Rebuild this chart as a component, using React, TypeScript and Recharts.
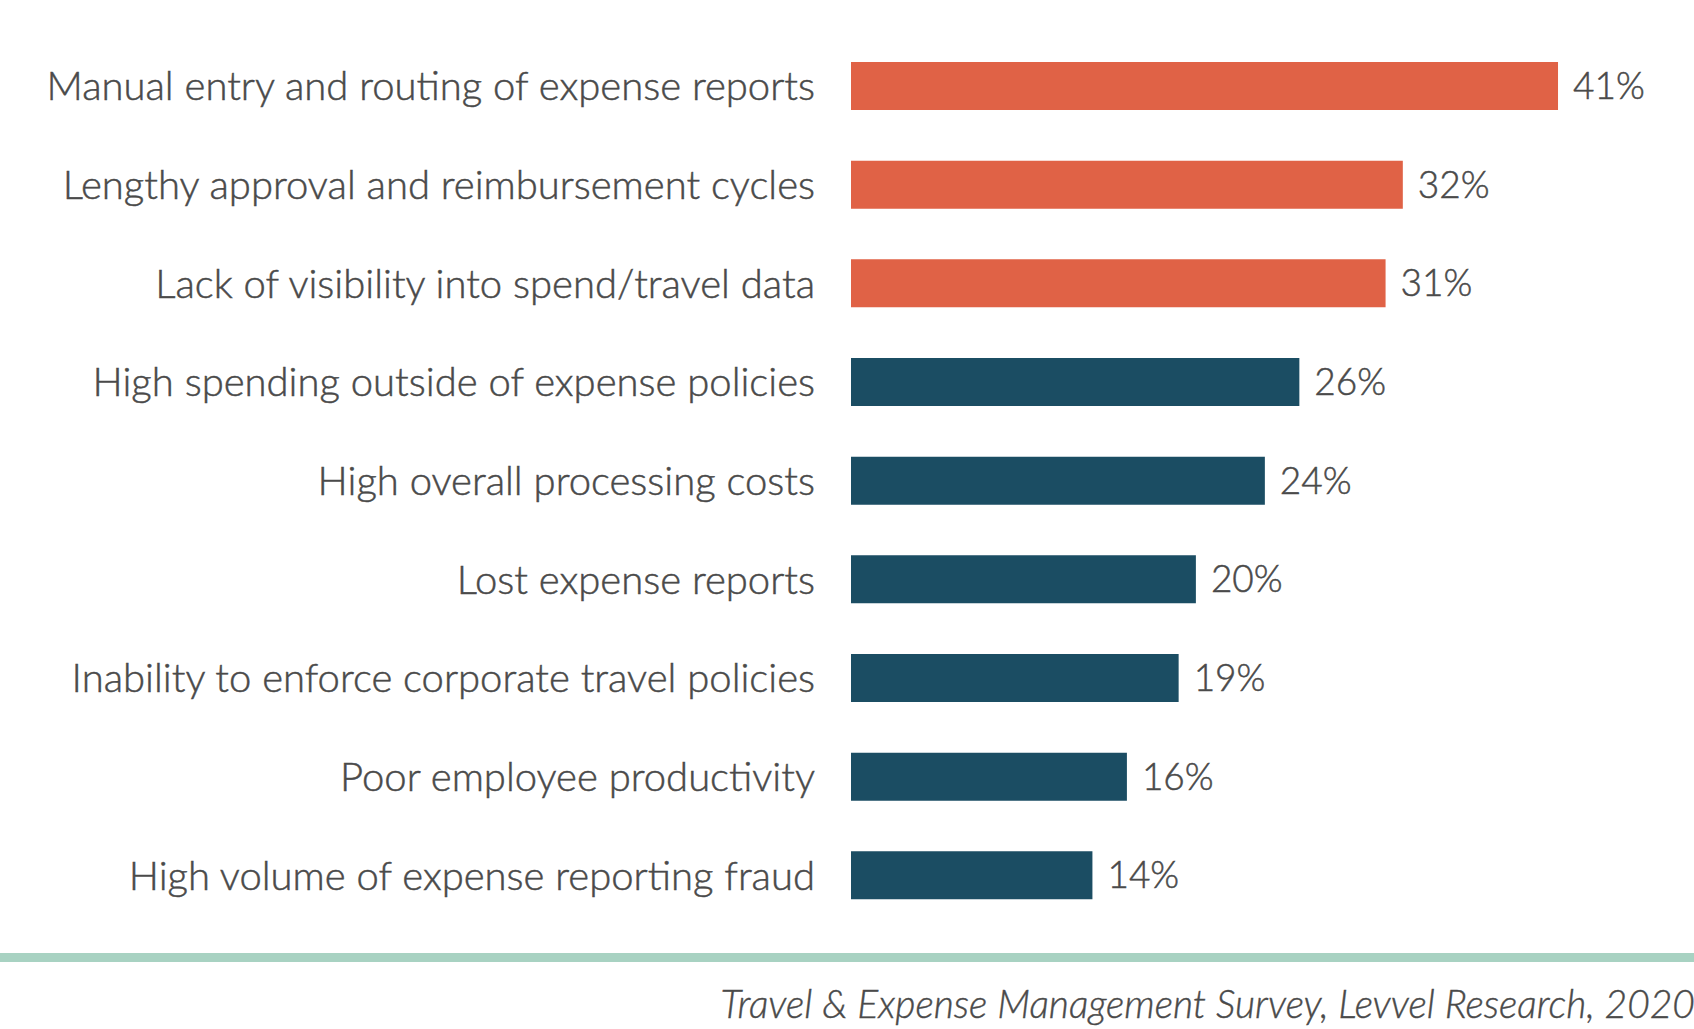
import { BarChart, Bar, XAxis, YAxis, Cell, LabelList } from 'recharts'

const categories = [
  'Manual entry and routing of expense reports',
  'Lengthy approval and reimbursement cycles',
  'Lack of visibility into spend/travel data',
  'High spending outside of expense policies',
  'High overall processing costs',
  'Lost expense reports',
  'Inability to enforce corporate travel policies',
  'Poor employee productivity',
  'High volume of expense reporting fraud',
]
const shares = [41, 32, 31, 26, 24, 20, 19, 16, 14]
const source = 'Travel & Expense Management Survey, Levvel Research, 2020'

const data = categories.map((name, i) => ({ name, value: shares[i] }))

const FONT = 'Lato, "Open Sans", sans-serif'
const TEXT = '#4a4a4a'

function CategoryTick(props: any) {
  const { x, y, payload } = props
  return (
    <text
      x={x - 28}
      y={y}
      dy={14}
      textAnchor="end"
      fill={TEXT}
      stroke={TEXT}
      strokeWidth={0.5}
      fontSize={40}
      fontWeight={300}
      fontFamily={FONT}
    >
      {payload.value}
    </text>
  )
}

export default function App() {
  return (
    <div style={{ position: 'absolute', left: 0, top: 0, width: 1694, height: 1029, background: '#fff', overflow: 'hidden' }}>
      <BarChart
        width={1694}
        height={1029}
        data={data}
        layout="vertical"
        margin={{ top: 37, right: 67, bottom: 104, left: 0 }}
      >
        <XAxis type="number" domain={[0, 45]} hide />
        <YAxis
          type="category"
          dataKey="name"
          width={851}
          axisLine={false}
          tickLine={false}
          interval={0}
          tick={<CategoryTick />}
        />
        <Bar dataKey="value" barSize={48} isAnimationActive={false}>
          {data.map((d, i) => (
            <Cell key={d.name} fill={i < 3 ? '#e06246' : '#1b4d63'} />
          ))}
          <LabelList
            dataKey="value"
            position="right"
            offset={15}
            formatter={(v: any) => `${v}%`}
            fill={TEXT}
            stroke={TEXT}
            strokeWidth={0.5}
            fontSize={37}
            fontWeight={300}
            fontFamily={FONT}
          />
        </Bar>
      </BarChart>
      <div style={{ position: 'absolute', left: 0, top: 953, width: 1694, height: 9, background: '#a8d2c2' }} />
      <div
        style={{
          position: 'absolute',
          right: -1,
          top: 980,
          fontFamily: FONT,
          fontStyle: 'italic',
          fontWeight: 300,
          fontSize: 39,
          color: TEXT,
          WebkitTextStroke: '0.4px #4a4a4a',
          whiteSpace: 'nowrap',
        }}
      >
        {source}
      </div>
    </div>
  )
}
